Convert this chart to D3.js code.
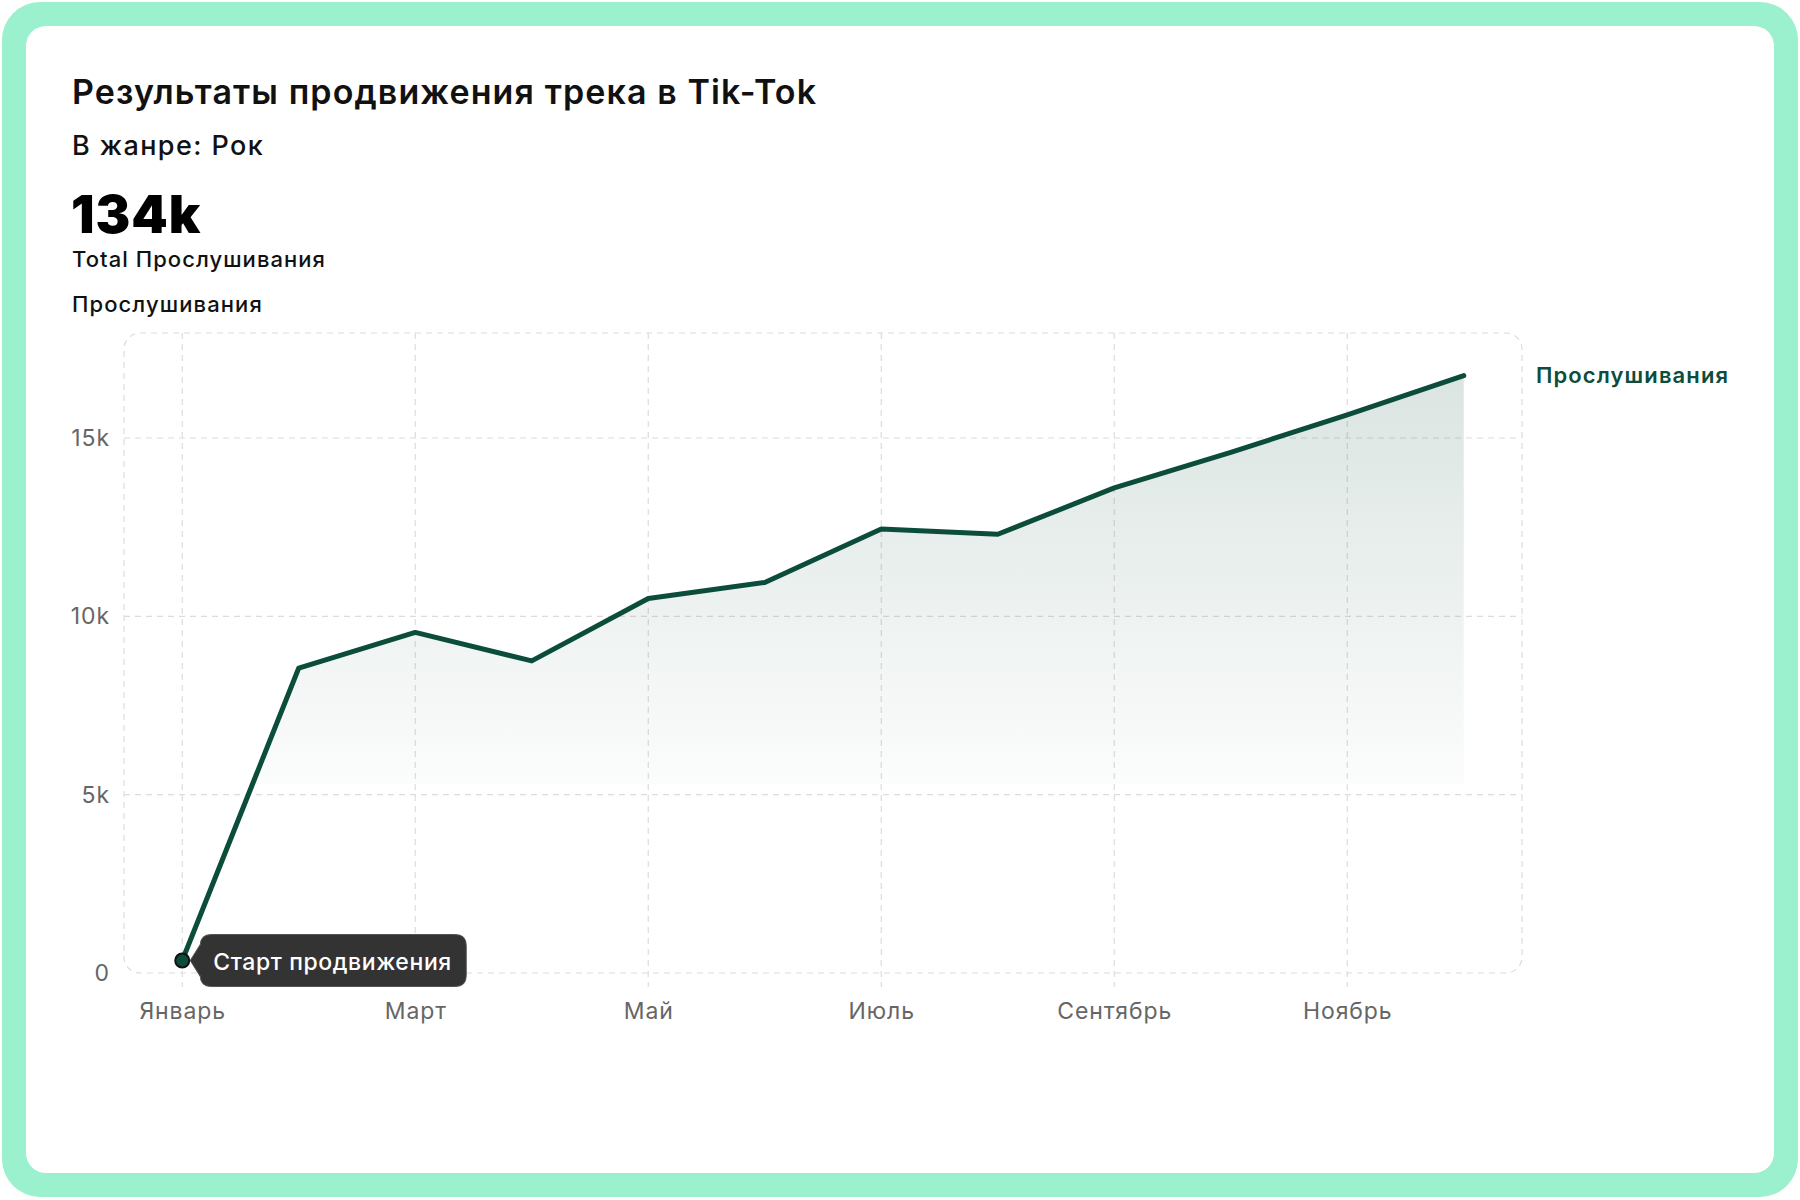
<!DOCTYPE html>
<html>
<head>
<meta charset="utf-8">
<script src="https://cdn.jsdelivr.net/npm/d3@7"></script>
<style>
  body { margin: 0; background: #fff; }
  text { font-family: Inter, "Noto Sans", sans-serif; }
</style>
</head>
<body>
<script>
// Data
var months = ["Январь", "Февраль", "Март", "Апрель", "Май", "Июнь", "Июль", "Август", "Сентябрь", "Октябрь", "Ноябрь", "Декабрь"];
var listens = [350, 8550, 9550, 8750, 10500, 10950, 12450, 12300, 13600, 14600, 15650, 16750];
var monthTicks = ["Январь", "Март", "Май", "Июль", "Сентябрь", "Ноябрь"];
var valueTicks = [0, 5000, 10000, 15000];
var seriesName = "Прослушивания";
var startLabel = "Старт продвижения";

var W = 1800, H = 1200;
var svg = d3.select("body").append("svg").attr("width", W).attr("height", H);

// Card frame
svg.append("rect").attr("x", 2).attr("y", 2).attr("width", 1796).attr("height", 1195)
    .attr("rx", 38).attr("fill", "#9bf0cd");
svg.append("rect").attr("x", 26).attr("y", 26).attr("width", 1748).attr("height", 1147)
    .attr("rx", 20).attr("fill", "#fff");

// Header texts
svg.append("text").text("Результаты продвижения трека в Tik-Tok")
    .attr("x", 72).attr("y", 104).attr("font-size", 34).attr("font-weight", 600)
    .attr("letter-spacing", 1.1).attr("fill", "#111");
svg.append("text").text("В жанре: Рок")
    .attr("x", 72).attr("y", 155).attr("font-size", 27).attr("font-weight", 500)
    .attr("letter-spacing", 1.4).attr("fill", "#111");
var total = d3.sum(listens);
svg.append("text").text(Math.round(total / 1000) + "k")
    .attr("x", 71).attr("y", 233).attr("font-size", 52).attr("font-weight", 900)
    .attr("letter-spacing", 1).attr("fill", "#000");
svg.append("text").text("Total " + seriesName)
    .attr("x", 72).attr("y", 267).attr("font-size", 22).attr("font-weight", 500)
    .attr("letter-spacing", 1.05).attr("fill", "#111");
svg.append("text").text(seriesName)
    .attr("x", 72).attr("y", 312).attr("font-size", 22).attr("font-weight", 500)
    .attr("letter-spacing", 1.1).attr("fill", "#111");

// Scales
var left = 124, right = 1522, plotTop = 333, bottom = 973;
var x = d3.scalePoint().domain(months).range([left, right]).padding(0.5);
var y = d3.scaleLinear().domain([0, 18000]).range([bottom, 331]);

// Grid
var grid = svg.append("g").attr("stroke", "#dcdcdc").attr("stroke-width", 1.2)
    .attr("stroke-dasharray", "6,5").attr("fill", "none");
grid.append("rect").attr("x", left).attr("y", plotTop).attr("width", right - left).attr("height", bottom - plotTop).attr("rx", 16);
grid.selectAll(".h").data(valueTicks.filter(function(d) { return d > 0; })).enter().append("line")
    .attr("x1", left).attr("x2", right)
    .attr("y1", function(d) { return y(d); }).attr("y2", function(d) { return y(d); });
grid.selectAll(".v").data(monthTicks).enter().append("line")
    .attr("x1", function(d) { return x(d); }).attr("x2", function(d) { return x(d); })
    .attr("y1", plotTop).attr("y2", bottom + 14);

// Axes
var xAxis = svg.append("g").attr("transform", "translate(0," + bottom + ")")
    .call(d3.axisBottom(x).tickValues(monthTicks).tickSize(0).tickPadding(30));
var yAxis = svg.append("g").attr("transform", "translate(" + left + ",0)")
    .call(d3.axisLeft(y).tickValues(valueTicks).tickSize(0).tickPadding(14)
        .tickFormat(function(d) { return d === 0 ? "0" : d / 1000 + "k"; }));
[xAxis, yAxis].forEach(function(a) {
    a.select(".domain").remove();
    a.selectAll("text").attr("font-family", "Inter, sans-serif").attr("font-size", 23)
        .attr("letter-spacing", 0.9).attr("fill", "#666");
});

// Area gradient
var areaBase = 5300;
var defs = svg.append("defs");
var grad = defs.append("linearGradient").attr("id", "fade").attr("gradientUnits", "userSpaceOnUse")
    .attr("x1", 0).attr("x2", 0).attr("y1", y(d3.max(listens))).attr("y2", y(areaBase));
grad.append("stop").attr("offset", 0).attr("stop-color", "#0b4d3a").attr("stop-opacity", 0.15);
grad.append("stop").attr("offset", 1).attr("stop-color", "#0b4d3a").attr("stop-opacity", 0.015);
defs.append("clipPath").attr("id", "aboveBase").append("rect")
    .attr("x", left).attr("y", plotTop).attr("width", right - left).attr("height", y(areaBase) - plotTop);

var area = d3.area()
    .x(function(d, i) { return x(months[i]); })
    .y0(y(areaBase))
    .y1(function(d) { return y(d); });
svg.append("path").datum(listens).attr("d", area).attr("fill", "url(#fade)").attr("clip-path", "url(#aboveBase)");

// Line
var line = d3.line()
    .x(function(d, i) { return x(months[i]); })
    .y(function(d) { return y(d); });
svg.append("path").datum(listens).attr("d", line).attr("fill", "none")
    .attr("stroke", "#0b4d3a").attr("stroke-width", 5)
    .attr("stroke-linejoin", "round").attr("stroke-linecap", "round");

// Legend
svg.append("text").text(seriesName)
    .attr("x", 1536).attr("y", 383).attr("font-size", 22).attr("font-weight", 600)
    .attr("letter-spacing", 1.1).attr("fill", "#0d4d3b");

// Start marker + tooltip
var px = x(months[0]), py = y(listens[0]);
var bx0 = px + 18, bx1 = px + 284, by0 = py - 26, by1 = py + 26, r = 11;
var tip = "M" + (bx0 + r) + "," + by0 +
    " H" + (bx1 - r) + " Q" + bx1 + "," + by0 + " " + bx1 + "," + (by0 + r) +
    " V" + (by1 - r) + " Q" + bx1 + "," + by1 + " " + (bx1 - r) + "," + by1 +
    " H" + (bx0 + r) + " Q" + bx0 + "," + by1 + " " + bx0 + "," + (by1 - r) +
    " V" + (py + 16) + " L" + (px + 8) + "," + py + " L" + bx0 + "," + (py - 16) +
    " V" + (by0 + r) + " Q" + bx0 + "," + by0 + " " + (bx0 + r) + "," + by0 + " Z";
svg.append("path").attr("d", tip).attr("fill", "#333").attr("stroke", "#555").attr("stroke-width", 1);
svg.append("text").text(startLabel)
    .attr("x", bx0 + 13).attr("y", py + 9).attr("font-size", 23).attr("font-weight", 500)
    .attr("letter-spacing", 0.6).attr("fill", "#fff");
svg.append("circle").attr("cx", px).attr("cy", py).attr("r", 7)
    .attr("fill", "#0b4d3a").attr("stroke", "#111").attr("stroke-width", 2);
</script>
</body>
</html>
